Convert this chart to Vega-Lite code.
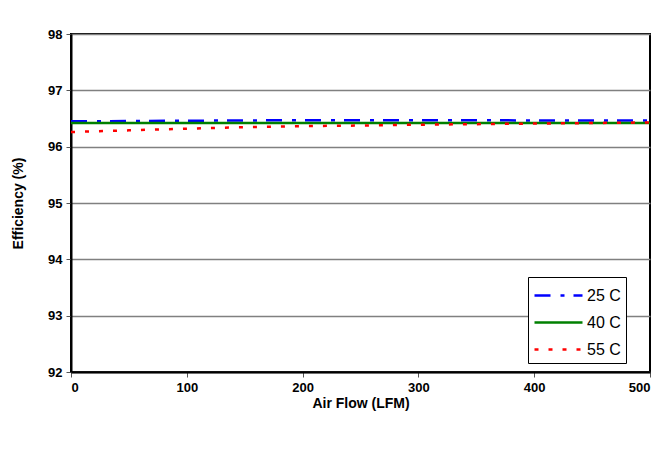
{
  "$schema": "https://vega.github.io/schema/vega-lite/v6.json",
  "autosize": {"type": "none"},
  "width": 579,
  "height": 338,
  "padding": {"left": 71, "top": 34, "right": 18, "bottom": 49},
  "background": "white",
  "config": {
    "font": "Liberation Sans",
    "view": {"stroke": "black", "strokeWidth": 2},
    "axis": {"labelFont": "Liberation Sans", "titleFont": "Liberation Sans"},
    "legend": {
      "title": null, "orient": "none", "legendX": 457, "legendY": 243,
      "fillColor": "white", "strokeColor": "black", "padding": 5,
      "symbolType": "M-3,0H1", "symbolSize": 576, "symbolStrokeWidth": 2.5, "symbolOffset": 24,
      "labelFontSize": 16, "labelColor": "black", "labelOffset": 3, "rowPadding": 5,
      "labelFont": "Liberation Sans"
    }
  },
  "data": {
    "values": [
      {"airflow": 0, "temp": "25 C", "eff": 96.45},
      {"airflow": 50, "temp": "25 C", "eff": 96.455},
      {"airflow": 100, "temp": "25 C", "eff": 96.46},
      {"airflow": 150, "temp": "25 C", "eff": 96.465},
      {"airflow": 200, "temp": "25 C", "eff": 96.47},
      {"airflow": 250, "temp": "25 C", "eff": 96.47},
      {"airflow": 300, "temp": "25 C", "eff": 96.47},
      {"airflow": 350, "temp": "25 C", "eff": 96.47},
      {"airflow": 400, "temp": "25 C", "eff": 96.465},
      {"airflow": 450, "temp": "25 C", "eff": 96.465},
      {"airflow": 500, "temp": "25 C", "eff": 96.465},
      {"airflow": 0, "temp": "40 C", "eff": 96.42},
      {"airflow": 100, "temp": "40 C", "eff": 96.42},
      {"airflow": 200, "temp": "40 C", "eff": 96.42},
      {"airflow": 300, "temp": "40 C", "eff": 96.42},
      {"airflow": 400, "temp": "40 C", "eff": 96.42},
      {"airflow": 500, "temp": "40 C", "eff": 96.42},
      {"airflow": 0, "temp": "55 C", "eff": 96.26},
      {"airflow": 50, "temp": "55 C", "eff": 96.29},
      {"airflow": 100, "temp": "55 C", "eff": 96.32},
      {"airflow": 150, "temp": "55 C", "eff": 96.345},
      {"airflow": 200, "temp": "55 C", "eff": 96.365},
      {"airflow": 250, "temp": "55 C", "eff": 96.375},
      {"airflow": 300, "temp": "55 C", "eff": 96.39},
      {"airflow": 350, "temp": "55 C", "eff": 96.4},
      {"airflow": 400, "temp": "55 C", "eff": 96.41},
      {"airflow": 450, "temp": "55 C", "eff": 96.42},
      {"airflow": 500, "temp": "55 C", "eff": 96.43}
    ]
  },
  "mark": {"type": "line", "strokeWidth": 2.5, "clip": true},
  "encoding": {
    "x": {
      "field": "airflow", "type": "quantitative",
      "scale": {"domain": [0, 500], "nice": false, "zero": false},
      "axis": {
        "title": "Air Flow (LFM)", "values": [0, 100, 200, 300, 400, 500],
        "grid": false, "domainColor": "black", "domainWidth": 2,
        "tickColor": "#555", "tickSize": 5, "tickWidth": 1,
        "labelFontSize": 13, "labelFontWeight": "bold", "labelColor": "black", "labelPadding": 4,
        "titleFontSize": 14, "titleFontWeight": "bold", "titleColor": "black", "titlePadding": 2
      }
    },
    "y": {
      "field": "eff", "type": "quantitative",
      "scale": {"domain": [92, 98], "nice": false, "zero": false},
      "axis": {
        "title": "Efficiency (%)", "values": [92, 93, 94, 95, 96, 97, 98],
        "grid": true, "gridColor": "#808080", "gridWidth": 1.5, "gridOpacity": 1,
        "domainColor": "black", "domainWidth": 2,
        "tickColor": "#555", "tickSize": 5, "tickWidth": 1,
        "labelFontSize": 13, "labelFontWeight": "bold", "labelColor": "black", "labelPadding": 4,
        "titleFontSize": 14, "titleFontWeight": "bold", "titleColor": "black", "titlePadding": 22
      }
    },
    "color": {
      "field": "temp", "type": "nominal",
      "scale": {"domain": ["25 C", "40 C", "55 C"], "range": ["#0000ff", "#008000", "#ff0000"]}
    },
    "strokeDash": {
      "field": "temp", "type": "nominal",
      "scale": {"domain": ["25 C", "40 C", "55 C"], "range": [[16, 10, 4, 9], [1, 0], [4, 10]]}
    }
  }
}
